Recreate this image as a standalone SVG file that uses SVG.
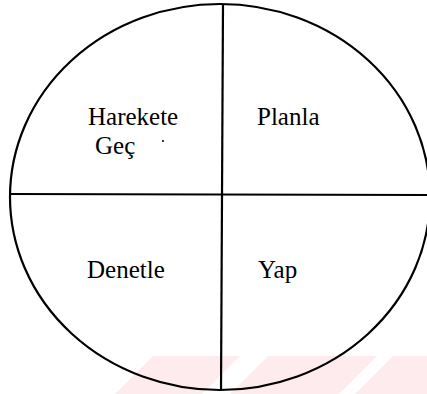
<svg xmlns="http://www.w3.org/2000/svg" width="427" height="394" viewBox="0 0 427 394">
<style>
.ln{stroke:#000;stroke-width:2.2;fill:none}
.lbl{font-family:"Liberation Serif","Times New Roman",serif;font-size:25px;fill:#000}
.wm{fill:#fdebee}
</style>
<rect width="427" height="394" fill="#fff"/>
<g id="watermark">
<polygon class="wm" points="153,356 240,356 202,394 115,394"/>
<polygon class="wm" points="268,356 377,356 339,394 230,394"/>
<polygon class="wm" points="393,356 427,356 427,394 355,394"/>
</g>
<g id="connectors">
<ellipse class="ln" cx="220" cy="197" rx="210" ry="193"/>
<line class="ln" x1="223" y1="4" x2="221" y2="390"/>
<line class="ln" x1="10" y1="194" x2="427" y2="195"/>
</g>
<g id="harekete-gec">
<text class="lbl" x="88" y="125">Harekete</text>
<text class="lbl" x="95" y="154">Geç</text>
<circle cx="163" cy="141" r="1" fill="#000"/>
</g>
<g id="planla"><text class="lbl" x="257" y="125">Planla</text></g>
<g id="denetle"><text class="lbl" x="87" y="278">Denetle</text></g>
<g id="yap"><text class="lbl" x="258" y="278">Yap</text></g>
</svg>
